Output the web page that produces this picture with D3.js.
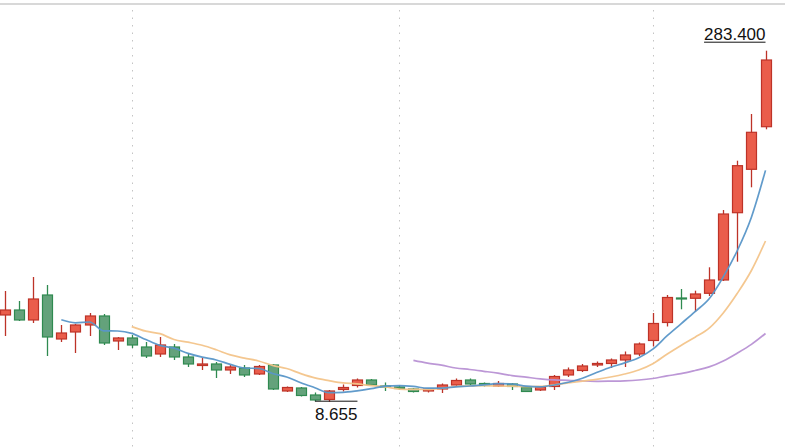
<!DOCTYPE html>
<html><head><meta charset="utf-8">
<script src="https://cdn.jsdelivr.net/npm/d3@7"></script>
<style>html,body{margin:0;padding:0;background:#fff;overflow:hidden}</style>
</head><body>
<svg id="chart" width="785" height="447"></svg>
<script>
const open = [76.53,80.44,72.62,92.18,57.74,63.22,68.70,75.75,56.18,58.53,
 51.48,46.00,51.48,43.66,37.00,38.18,33.48,35.05,30.35,37.39,
 17.04,19.39,13.91,10.39,18.22,21.35,25.65,20.96,20.18,18.61,
 17.04,18.61,21.74,25.65,22.91,20.96,22.52,19.78,17.83,20.57,
 29.57,33.09,37.39,38.57,41.31,46.00,56.57,70.66,89.84,89.60,
 93.51,103.92,156.60,190.57,223.91];
const close = [80.44,72.62,89.05,59.31,62.44,68.70,75.75,54.61,58.53,53.05,
 44.44,53.05,43.66,38.18,38.18,33.48,35.83,29.57,36.22,18.61,
 19.78,13.52,10.00,17.04,19.78,25.65,21.74,20.18,19.00,16.65,
 18.61,21.74,25.26,22.52,21.35,22.91,20.57,16.65,20.18,28.39,
 33.48,36.61,38.57,41.31,45.22,53.83,69.88,90.23,89.21,92.97,
 103.92,155.58,193.39,219.53,276.12];
const high = [95.31,87.49,106.27,100.01,68.70,69.49,78.09,77.31,59.31,60.88,
 55.40,59.31,53.83,46.79,42.87,39.74,37.39,37.39,37.39,38.18,
 20.57,20.18,15.87,17.83,22.13,26.83,26.44,23.70,21.74,19.39,
 19.39,22.91,26.83,26.83,23.70,24.87,23.31,20.18,20.96,29.57,
 35.44,38.18,40.13,42.48,47.96,55.01,78.09,92.18,96.88,95.55,
 113.86,158.71,197.30,233.85,283.40];
const low = [60.09,71.83,70.27,44.44,55.40,46.79,60.09,53.05,49.13,50.70,
 42.87,43.66,41.31,35.83,33.48,27.22,30.35,28.00,29.57,17.83,
 16.26,12.74,9.00,8.655,16.65,19.78,20.96,17.04,17.83,15.87,
 15.87,15.48,20.96,21.74,20.57,20.18,17.83,16.26,17.04,17.83,
 28.00,31.92,35.83,35.05,35.83,44.44,51.88,67.53,80.99,79.11,
 91.40,103.14,118.25,176.48,221.88];
const ma5 = [null,null,null,null,72.77,70.42,71.05,64.16,64.01,62.13,
 57.28,52.74,50.54,46.47,43.50,41.31,37.86,35.05,34.65,30.74,
 28.00,23.54,19.63,15.79,16.03,17.20,18.84,20.88,21.27,20.64,
 19.24,19.24,20.25,20.96,21.90,22.76,22.52,20.80,20.33,21.74,
 23.85,27.06,31.45,35.67,39.04,43.11,49.76,60.09,69.64,79.19,
 89.21,106.35,127.01,153.08,189.71];
const ma10 = [null,null,null,null,null,null,null,null,null,67.45,
 63.85,61.89,57.35,55.24,52.81,49.29,45.30,42.79,40.53,37.08,
 34.65,30.66,27.30,25.18,23.38,22.60,21.19,20.25,18.53,18.30,
 18.22,19.00,20.57,21.11,21.27,20.96,20.88,20.49,20.64,21.82,
 23.31,24.79,26.12,28.00,30.35,33.48,38.41,45.77,52.66,59.15,
 66.20,78.09,93.51,111.36,134.45];
const ma30 = [null,null,null,null,null,null,null,null,null,null,
 null,null,null,null,null,null,null,null,null,null,
 null,null,null,null,null,null,null,null,null,40.99,
 38.88,37.24,35.05,33.87,32.46,30.98,29.10,27.85,26.59,25.73,
 25.42,24.87,24.64,24.79,25.03,25.65,26.83,28.86,30.58,33.09,
 35.91,40.60,46.71,53.52,62.05];
const gridIdx = [9, 28, 46];

const svg = d3.select('#chart');
const W = 785, H = 447;
const n = open.length;
const x = d3.scaleLinear().domain([0, n - 1]).range([5, 765.5]);
const maxV = d3.max(high), minV = d3.min(low);
const maxI = high.indexOf(maxV), minI = low.indexOf(minV);
const y = d3.scaleLinear().domain([minV, maxV]).range([401.7, 50.7]);

// top border
svg.append('line').attr('x1', 0).attr('x2', W).attr('y1', 4).attr('y2', 4)
  .attr('stroke', '#d8d8d8').attr('stroke-width', 2);
// vertical dotted grid
svg.selectAll('line.grid').data(gridIdx).enter().append('line')
  .attr('class', 'grid')
  .attr('x1', d => Math.round(x(d)) + 0.5).attr('x2', d => Math.round(x(d)) + 0.5)
  .attr('y1', 10).attr('y2', H)
  .attr('stroke', '#c4c4c4').attr('stroke-width', 1).attr('stroke-dasharray', '1.5,6');

const idx = d3.range(n);
const upFill = '#ea5d4b', upStroke = '#bd3328';
const dnFill = '#64a27b', dnStroke = '#2f8a50';
const bw = 10;
const g = svg.append('g');
const c = g.selectAll('g.c').data(idx).enter().append('g').attr('class', 'c');
c.append('line')
  .attr('x1', i => Math.round(x(i)) + 0.5).attr('x2', i => Math.round(x(i)) + 0.5)
  .attr('y1', i => y(high[i])).attr('y2', i => y(low[i]))
  .attr('stroke', i => close[i] >= open[i] ? upStroke : dnStroke).attr('stroke-width', 1.3);
c.append('rect')
  .attr('x', i => Math.round(x(i)) + 0.5 - bw / 2)
  .attr('y', i => y(Math.max(open[i], close[i])))
  .attr('width', bw)
  .attr('height', i => Math.max(1, Math.abs(y(open[i]) - y(close[i]))))
  .attr('fill', i => close[i] >= open[i] ? upFill : dnFill)
  .attr('stroke', i => close[i] >= open[i] ? upStroke : dnStroke)
  .attr('stroke-width', 1.2);

function drawMA(arr, color) {
  const line = d3.line().defined(i => arr[i] != null).x(i => x(i)).y(i => y(arr[i]))
    .curve(d3.curveMonotoneX);
  svg.append('path').attr('d', line(idx)).attr('fill', 'none')
    .attr('stroke', color).attr('stroke-width', 1.7).attr('stroke-opacity', 0.95);
}
drawMA(ma30, '#b891d4');
drawMA(ma10, '#f3c48a');
drawMA(ma5, '#5896c8');

const fmt = d3.format('.3f');
const font = '"Liberation Sans", Arial, sans-serif';
// max label
const maxT = svg.append('text').attr('x', x(maxI)).attr('y', y(maxV) - 10.5)
  .attr('text-anchor', 'end').attr('font-family', font).attr('font-size', 17)
  .attr('fill', '#111').text(fmt(maxV));
const mb = maxT.node().getBBox();
svg.append('line').attr('x1', mb.x).attr('x2', mb.x + mb.width)
  .attr('y1', y(maxV) - 8.5).attr('y2', y(maxV) - 8.5).attr('stroke', '#111').attr('stroke-width', 1);
// min label
const minT = svg.append('text').attr('x', x(minI) - 14).attr('y', y(minV) + 18)
  .attr('text-anchor', 'start').attr('font-family', font).attr('font-size', 17)
  .attr('fill', '#111').text(fmt(minV));
const nb = minT.node().getBBox();
svg.append('line').attr('x1', nb.x).attr('x2', nb.x + nb.width)
  .attr('y1', y(minV) - 0.5).attr('y2', y(minV) - 0.5).attr('stroke', '#111').attr('stroke-width', 1);
</script>
</body></html>
